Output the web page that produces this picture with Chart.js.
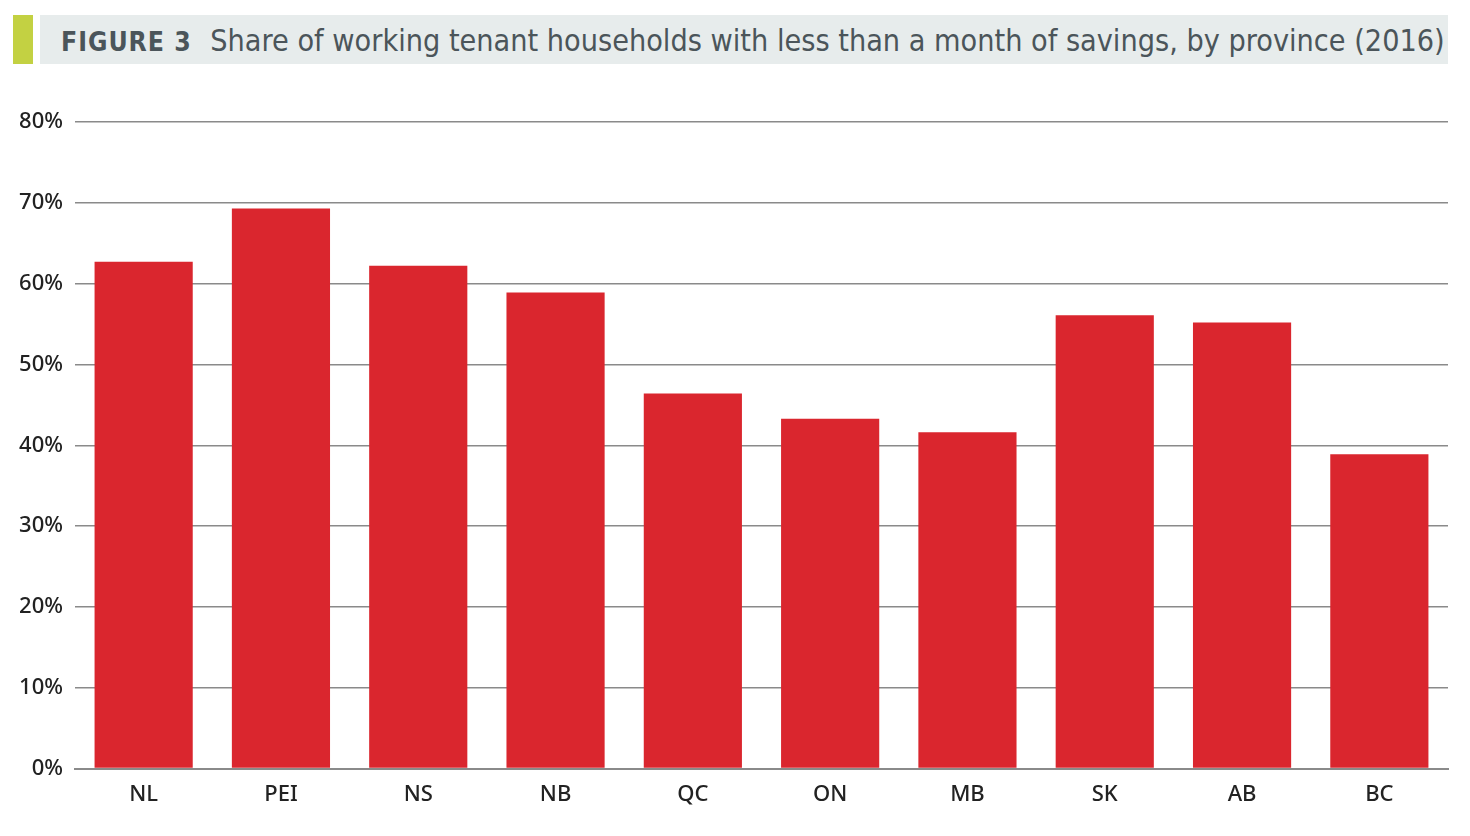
<!DOCTYPE html>
<html>
<head>
<meta charset="utf-8">
<script src="https://cdn.jsdelivr.net/npm/chart.js@4/dist/chart.umd.min.js"></script>
<style>
  html, body { margin: 0; padding: 0; background: #fff; }
  body { width: 1470px; height: 836px; position: relative; overflow: hidden; }
  .tag { position: absolute; left: 13px; top: 15px; width: 20px; height: 49px; background: #c3d142; }
  .band { position: absolute; left: 40px; top: 15px; width: 1408px; height: 49px; background: #e7ecec; }
  .title { position: absolute; left: 61px; top: 18px; white-space: nowrap; color: #4b555a;
           font-family: "DejaVu Sans Condensed", "Liberation Sans Narrow", sans-serif; font-size: 31px; line-height: 44px;
           transform-origin: left center; }
  .title b { font-weight: bold; font-size: 27px; letter-spacing: 1px; margin-right: 19px; }
  .wrap { position: absolute; left: 0; top: 80px; width: 1470px; height: 756px; }
</style>
</head>
<body>
<div class="tag"></div>
<div class="band"></div>
<div class="title" id="title"><b>FIGURE 3</b>Share of working tenant households with less than a month of savings, by province (2016)</div>
<div class="wrap"><canvas id="chart" width="1470" height="756"></canvas></div>
<script>
const provinces = ['NL', 'PEI', 'NS', 'NB', 'QC', 'ON', 'MB', 'SK', 'AB', 'BC'];
const shares = [62.7, 69.3, 62.2, 58.9, 46.4, 43.3, 41.6, 56.1, 55.2, 38.9];
const yTicks = [0, 10, 20, 30, 40, 50, 60, 70, 80];

// squeeze the title so it ends where the band ends
const titleEl = document.getElementById('title');
const targetWidth = 1445 - 61;
titleEl.style.transform = `scaleX(${targetWidth / titleEl.scrollWidth})`;

const tickFont = { family: 'Noto Sans', size: 22, weight: 500 };

new Chart(document.getElementById('chart'), {
    type: 'bar',
    data: {
        labels: provinces,
        datasets: [{
            data: shares,
            backgroundColor: '#da262e',
            borderWidth: 0,
            barPercentage: 0.715,
            categoryPercentage: 1
        }]
    },
    options: {
        responsive: false,
        animation: false,
        devicePixelRatio: 1,
        layout: { padding: { top: 42, right: 22, bottom: 15, left: 0 } },
        scales: {
            x: {
                grid: { display: false, drawTicks: false },
                border: { color: '#8a8a8a', width: 2 },
                ticks: { color: '#222', padding: 13, maxRotation: 0, autoSkip: false, font: tickFont }
            },
            y: {
                min: 0, max: 80,
                afterBuildTicks: scale => { scale.ticks = yTicks.map(v => ({ value: v })); },
                afterFit: scale => { scale.width = 75; },
                grid: { color: '#8a8a8a', lineWidth: 1.5, drawTicks: false },
                border: { display: false },
                ticks: {
                    color: '#222', padding: 12,
                    font: tickFont,
                    callback: v => v + '%'
                }
            }
        },
        plugins: { legend: { display: false }, tooltip: { enabled: false } }
    }
});
</script>
</body>
</html>
